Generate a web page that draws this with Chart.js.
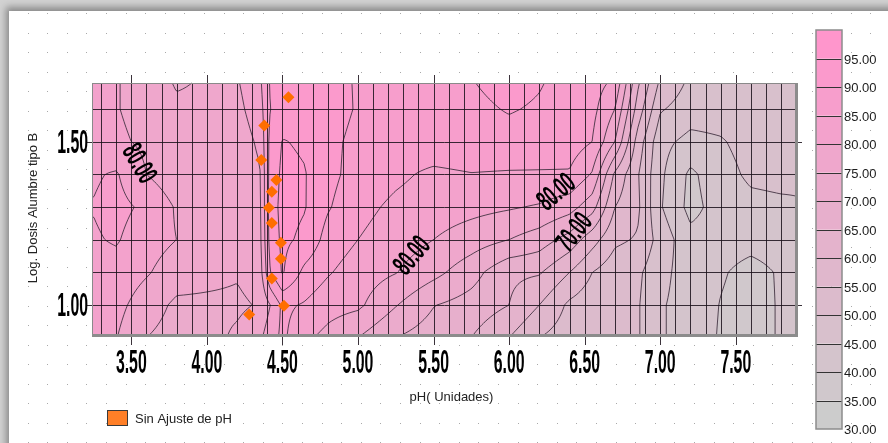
<!DOCTYPE html>
<html lang="es">
<head>
<meta charset="UTF-8">
<title>Remoción - pH vs Log. Dosis Alumbre</title>
<script src="https://cdn.jsdelivr.net/npm/chart.js"></script>
<style>
    html, body { margin: 0; padding: 0; }
    body { width: 888px; height: 443px; overflow: hidden; position: relative; background: #d2d2d2; }
    #sheet { position: absolute; left: 9px; top: 11px; width: 900px; height: 450px; background: #fff;
             box-shadow: -1px -2px 7px 2px rgba(0,0,0,0.35); }
    #chart { position: absolute; left: 0; top: 0; }
</style>
</head>
<body>
<div id="sheet"></div>
<canvas id="chart" width="888" height="443"></canvas>
<script>
// surface grid: pH columns, log dose rows (top to bottom), one value row per log dose
const phCols = [3.25, 3.4, 3.6, 3.8, 4.0, 4.2, 4.35, 4.42, 4.5, 4.65, 4.8, 5.0, 5.25, 5.5, 5.75, 6.0, 6.2, 6.4, 6.55, 6.7, 6.85, 7.0, 7.2, 7.4, 7.6, 7.8, 7.9];
const logRows = [1.68, 1.6, 1.5, 1.4, 1.3, 1.2, 1.1, 1.0, 0.9];

const z168 = [82, 80.3, 78, 74.5, 75.5, 79.5, 84, 90.5, 92, 93, 92, 89.5, 88, 88.5, 89.8, 91.5, 90.3, 88.5, 87, 84, 66, 54, 49, 48, 48, 48, 48];
const z160 = [82.5, 80.3, 78, 76, 76, 78.5, 83, 90, 93, 93.5, 92.5, 89.5, 88, 88.5, 89, 90.3, 89.5, 88, 86.5, 80, 63, 50.5, 47.5, 47.5, 48, 48, 48];
const z150 = [83, 81, 79, 77, 75.5, 77, 81, 91.5, 95.2, 94.5, 91.5, 88.5, 87.5, 88, 88.5, 88.5, 88, 87.5, 85, 75, 58, 46.5, 43.5, 44.5, 47, 48, 48];
const z140 = [84.5, 85.5, 80, 77, 76, 76.5, 79.5, 92, 96, 95.2, 91.5, 88, 86, 84, 84.8, 84.5, 84.5, 84.5, 79.5, 64, 55.5, 46, 39, 43, 46, 46.5, 46];
const z130 = [85.2, 86.5, 84, 79.5, 77, 76.5, 79, 92.5, 96.5, 95.2, 90.5, 86.5, 84, 82.5, 81.5, 80.5, 79.5, 77, 72, 60, 56, 45.5, 38.5, 42, 43.5, 44, 44.5];
const z120 = [84.5, 85.5, 82, 80, 77, 76, 78.5, 92, 96, 94, 88, 85, 82.5, 80, 77.5, 75, 72.5, 68, 62, 56, 54.5, 48, 41.5, 42, 41.5, 42, 43];
const z110 = [83, 83, 80.5, 77.5, 76.5, 75.5, 77.5, 90, 95.5, 88.5, 85.5, 82.5, 80.2, 76.5, 72, 66, 65.5, 60, 55, 52, 51, 46.5, 42.5, 40.5, 38.5, 40.5, 42];
const z100 = [82, 81.5, 77.5, 74, 74, 74, 75.5, 80, 86, 84.5, 82, 81, 75.3, 70.2, 68, 65, 60, 54, 52, 51, 50.5, 45.5, 43, 39.8, 38, 40.5, 42];
const z090 = [82, 80.2, 75, 73, 73, 76, 79, 83, 86, 81, 78.5, 75, 70, 67.5, 65, 60, 55, 52.5, 50, 50.5, 50.5, 45.5, 43, 39.5, 38, 40.5, 42];
const zRows = [z168, z160, z150, z140, z130, z120, z110, z100, z090];

// "Sin Ajuste de pH" points
const sinAjustePh  = [4.54, 4.38, 4.36, 4.46, 4.43, 4.41, 4.43, 4.49, 4.49, 4.43, 4.51, 4.28];
const sinAjusteLog = [1.636, 1.55, 1.444, 1.383, 1.347, 1.298, 1.251, 1.191, 1.142, 1.081, 0.998, 0.971];

const xTickValues = [3.5, 4.0, 4.5, 5.0, 5.5, 6.0, 6.5, 7.0, 7.5];
const yTickValues = [1.0, 1.5];
const levelValues = [95, 90, 85, 80, 75, 70, 65, 60, 55, 50, 45, 40, 35, 30];
const contourLevels = [35, 40, 45, 50, 55, 60, 65, 70, 75, 80, 85, 90, 95];

const contourLabels = [
    {text: '80.00', ph: 3.548, lg: 1.432, angle: 60},
    {text: '80.00', ph: 5.362, lg: 1.150, angle: -50},
    {text: '80.00', ph: 6.316, lg: 1.344, angle: -40},
    {text: '70.00', ph: 6.435, lg: 1.221, angle: -52}
];

const grayEnd = [204, 204, 204];
const pinkEnd = [255, 150, 204];
const FONT = '"Liberation Sans", Arial, sans-serif';

function bandColor(v) {
    let k = Math.floor((v - 30) / 5);
    k = Math.max(0, Math.min(13, k));
    const t = k / 13;
    return grayEnd.map((g, i) => Math.round(g + (pinkEnd[i] - g) * t));
}

const rowsAsc = logRows.slice().reverse();
const zAsc = zRows.slice().reverse();

function locate(arr, v) {
    const n = arr.length;
    if (v <= arr[0]) return [0, 0];
    if (v >= arr[n - 1]) return [n - 2, 1];
    let i = 0;
    while (arr[i + 1] < v) i++;
    return [i, (v - arr[i]) / (arr[i + 1] - arr[i])];
}

function surface(ph, lg) {
    const [i, tx] = locate(phCols, ph);
    const [j, ty] = locate(rowsAsc, lg);
    const a = zAsc[j][i], b = zAsc[j][i + 1], c = zAsc[j + 1][i], d = zAsc[j + 1][i + 1];
    return (a * (1 - tx) + b * tx) * (1 - ty) + (c * (1 - tx) + d * tx) * ty;
}

function stretchedText(ctx, text, x, y, size, sx, sy, align, angle) {
    ctx.save();
    ctx.translate(x, y);
    if (angle) ctx.rotate(angle * Math.PI / 180);
    ctx.scale(sx, sy);
    ctx.font = 'bold ' + size + 'px ' + FONT;
    ctx.textAlign = align;
    ctx.textBaseline = 'middle';
    ctx.fillStyle = '#000';
    ctx.fillText(text, 0, 0);
    ctx.restore();
}

const surfacePlugin = {
    id: 'surface',
    beforeDraw(chart) {
        const {ctx, chartArea: a, scales: {x, y}} = chart;

        // dotted sheet background
        ctx.fillStyle = '#a9a9a9';
        for (let dx = 8; dx < 888; dx += 19.6) {
            for (let dy = 13; dy < 443; dy += 19.5) {
                if (dx < 10 || dy < 12) continue;
                ctx.fillRect(Math.round(dx), Math.round(dy), 1, 1);
            }
        }

        // filled bands
        const left = Math.round(a.left), top = Math.round(a.top);
        const w = Math.round(a.right) - left, h = Math.round(a.bottom) - top;
        const img = ctx.createImageData(w, h);
        for (let j = 0; j < h; j++) {
            const lg = y.getValueForPixel(top + j + 0.5);
            for (let i = 0; i < w; i++) {
                const c = bandColor(surface(x.getValueForPixel(left + i + 0.5), lg));
                const p = (j * w + i) * 4;
                img.data[p] = c[0]; img.data[p + 1] = c[1]; img.data[p + 2] = c[2]; img.data[p + 3] = 255;
            }
        }
        ctx.putImageData(img, left, top);

        // contour lines (marching squares on a fine sample)
        const step = 2;
        const nx = Math.ceil(w / step) + 1, ny = Math.ceil(h / step) + 1;
        const px = [], py = [], vals = [];
        for (let i = 0; i < nx; i++) px.push(Math.min(left + i * step, left + w));
        for (let j = 0; j < ny; j++) py.push(Math.min(top + j * step, top + h));
        for (let j = 0; j < ny; j++) {
            const lg = y.getValueForPixel(py[j]);
            const row = [];
            for (let i = 0; i < nx; i++) row.push(surface(x.getValueForPixel(px[i]), lg));
            vals.push(row);
        }
        ctx.save();
        ctx.strokeStyle = 'rgba(60,45,60,0.85)';
        ctx.lineWidth = 1;
        contourLevels.forEach(L => {
            ctx.beginPath();
            for (let j = 0; j < ny - 1; j++) {
                for (let i = 0; i < nx - 1; i++) {
                    const va = vals[j][i], vb = vals[j][i + 1], vc = vals[j + 1][i + 1], vd = vals[j + 1][i];
                    const sa = va >= L, sb = vb >= L, sc = vc >= L, sd = vd >= L;
                    if (sa === sb && sb === sc && sc === sd) continue;
                    const x0 = px[i], x1 = px[i + 1], y0 = py[j], y1 = py[j + 1];
                    const pts = {};
                    if (sa !== sb) pts.t = [x0 + (x1 - x0) * (L - va) / (vb - va), y0];
                    if (sb !== sc) pts.r = [x1, y0 + (y1 - y0) * (L - vb) / (vc - vb)];
                    if (sd !== sc) pts.b = [x0 + (x1 - x0) * (L - vd) / (vc - vd), y1];
                    if (sa !== sd) pts.l = [x0, y0 + (y1 - y0) * (L - va) / (vd - va)];
                    const keys = Object.keys(pts);
                    let segs = [];
                    if (keys.length === 2) segs = [[pts[keys[0]], pts[keys[1]]]];
                    else if (keys.length === 4) {
                        const center = (va + vb + vc + vd) / 4 >= L;
                        segs = center === sa ? [[pts.t, pts.r], [pts.b, pts.l]] : [[pts.t, pts.l], [pts.r, pts.b]];
                    }
                    segs.forEach(s => { ctx.moveTo(s[0][0], s[0][1]); ctx.lineTo(s[1][0], s[1][1]); });
                }
            }
            ctx.stroke();
        });
        ctx.restore();

        // mesh every 0.1 units
        ctx.save();
        ctx.strokeStyle = 'rgba(25,15,25,0.85)';
        ctx.lineWidth = 1;
        ctx.beginPath();
        for (let k = 33; k <= 78; k++) {
            const xx = Math.round(x.getPixelForValue(k / 10)) + 0.5;
            ctx.moveTo(xx, a.top); ctx.lineTo(xx, a.bottom);
        }
        for (let k = 10; k <= 16; k++) {
            const yy = Math.round(y.getPixelForValue(k / 10)) + 0.5;
            ctx.moveTo(a.left, yy); ctx.lineTo(a.right, yy);
        }
        // major ticks outside the plot
        xTickValues.forEach(v => {
            const xx = Math.round(x.getPixelForValue(v)) + 0.5;
            ctx.moveTo(xx, a.top - 8); ctx.lineTo(xx, a.top);
            ctx.moveTo(xx, a.bottom); ctx.lineTo(xx, a.bottom + 9);
        });
        yTickValues.forEach(v => {
            const yy = Math.round(y.getPixelForValue(v)) + 0.5;
            ctx.moveTo(a.left - 6, yy); ctx.lineTo(a.left, yy);
            ctx.moveTo(a.right, yy); ctx.lineTo(a.right + 5, yy);
        });
        ctx.stroke();

        // frame
        ctx.strokeStyle = '#8a8a8a';
        ctx.strokeRect(left + 0.5, top + 0.5, w - 1, h - 1);
        ctx.fillStyle = '#8c8c8c';
        ctx.fillRect(left + w - 2, top, 3, h + 1);
        ctx.fillRect(left, top + h - 2, w + 1, 3);
        ctx.restore();
    },
    beforeDatasetsDraw(chart) {
        const {ctx, scales: {x, y}} = chart;
        contourLabels.forEach(l => {
            stretchedText(ctx, l.text, x.getPixelForValue(l.ph), y.getPixelForValue(l.lg), 20, 0.8, 1.45, 'center', l.angle);
        });
    },
    afterDraw(chart) {
        const {ctx, chartArea: a, scales: {x, y}} = chart;

        // tick labels
        xTickValues.forEach(v => stretchedText(ctx, v.toFixed(2), x.getPixelForValue(v), 364, 24, 0.66, 1.4, 'center'));
        yTickValues.forEach(v => stretchedText(ctx, v.toFixed(2), 88, y.getPixelForValue(v) + 2, 24, 0.66, 1.4, 'right'));

        ctx.save();
        ctx.fillStyle = '#222';
        ctx.font = '13px ' + FONT;
        ctx.textBaseline = 'middle';
        ctx.textAlign = 'center';
        ctx.fillText('pH( Unidades)', (a.left + a.right) / 2 + 7, 397);
        ctx.save();
        ctx.translate(33, 208);
        ctx.rotate(-Math.PI / 2);
        ctx.fillText('Log. Dosis Alumbre tipo B', 0, 0);
        ctx.restore();

        // series legend
        ctx.fillStyle = '#ff7f27';
        ctx.fillRect(107, 410, 21, 16);
        ctx.strokeStyle = '#3a3a3a';
        ctx.strokeRect(107.5, 410.5, 20, 15);
        ctx.fillStyle = '#222';
        ctx.textAlign = 'left';
        ctx.fillText('Sin Ajuste de pH', 135, 419);

        // colour bar
        const bx = 816, bw = 26, bTop = 30, bBot = 429;
        const toY = v => bTop + (100 - v) / 70 * (bBot - bTop);
        for (let v = 30; v < 100; v += 5) {
            const c = bandColor(v + 2.5);
            ctx.fillStyle = 'rgb(' + c.join(',') + ')';
            ctx.fillRect(bx, toY(v + 5), bw, toY(v) - toY(v + 5));
        }
        ctx.strokeStyle = '#333';
        ctx.lineWidth = 1;
        ctx.beginPath();
        levelValues.forEach(v => {
            if (v === 30) return;
            const yy = Math.round(toY(v)) + 0.5;
            ctx.moveTo(bx, yy); ctx.lineTo(bx + bw, yy);
        });
        ctx.stroke();
        ctx.strokeStyle = '#8c8c8c';
        ctx.lineWidth = 1.5;
        ctx.strokeRect(bx, bTop, bw, bBot - bTop);
        ctx.fillStyle = '#1c1c1c';
        ctx.font = '13px ' + FONT;
        levelValues.forEach(v => ctx.fillText(v.toFixed(2), bx + 28, toY(v) + 1.5));
        ctx.restore();
    }
};

new Chart(document.getElementById('chart'), {
    type: 'scatter',
    data: {
        datasets: [{
            label: 'Sin Ajuste de pH',
            data: sinAjustePh.map((v, i) => ({x: v, y: sinAjusteLog[i]})),
            pointStyle: 'rectRot',
            pointRadius: 6,
            pointHoverRadius: 6,
            backgroundColor: '#ff6e00',
            borderWidth: 0
        }]
    },
    options: {
        responsive: false,
        animation: false,
        devicePixelRatio: 1,
        layout: {padding: {left: 92, top: 83, right: 91, bottom: 107}},
        scales: {
            x: {
                type: 'linear', min: 3.24, max: 7.905,
                grid: {display: false, drawTicks: false},
                border: {display: false},
                ticks: {display: false}
            },
            y: {
                type: 'linear', min: 0.905, max: 1.68,
                grid: {display: false, drawTicks: false},
                border: {display: false},
                ticks: {display: false}
            }
        },
        plugins: {
            legend: {display: false},
            tooltip: {enabled: false}
        }
    },
    plugins: [surfacePlugin]
});
</script>
</body>
</html>
